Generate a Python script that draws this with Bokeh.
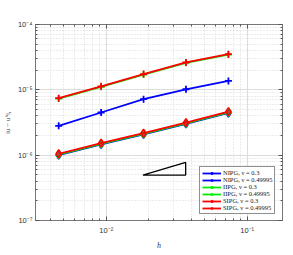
import numpy as np
from bokeh.plotting import figure
from bokeh.models import (LogAxis, FixedTicker, CustomJSTickFormatter, Legend, LegendItem,
                          Range1d, CustomLabelingPolicy)
from bokeh.embed import file_html
from bokeh.resources import INLINE

# ---------------- data ----------------
h = [0.0046, 0.0092, 0.0184, 0.0368, 0.0736]
nipg_03 = [1.00e-6, 1.46e-6, 2.08e-6, 3.01e-6, 4.42e-6]
nipg_049 = [2.81e-6, 4.50e-6, 7.20e-6, 1.02e-5, 1.37e-5]
iipg_03 = [1.02e-6, 1.49e-6, 2.12e-6, 3.07e-6, 4.52e-6]
iipg_049 = [7.35e-6, 1.11e-5, 1.71e-5, 2.59e-5, 3.47e-5]
sipg_03 = [1.05e-6, 1.53e-6, 2.18e-6, 3.15e-6, 4.65e-6]
sipg_049 = [7.46e-6, 1.13e-5, 1.74e-5, 2.63e-5, 3.52e-5]

labels = ["NIPG, \u03bd = 0.3", "NIPG, \u03bd = 0.49995",
          "IIPG, \u03bd = 0.3", "IIPG, \u03bd = 0.49995",
          "SIPG, \u03bd = 0.3", "SIPG, \u03bd = 0.49995"]

tri_x = [0.0182, 0.0366, 0.0366, 0.0182]
tri_y = [4.95e-7, 4.95e-7, 7.73e-7, 4.95e-7]

x_major = [1e-2, 1e-1]
x_minor = [4e-3, 5e-3, 6e-3, 7e-3, 8e-3, 9e-3,
           2e-2, 3e-2, 4e-2, 5e-2, 6e-2, 7e-2, 8e-2, 9e-2]
y_major = [1e-7, 1e-6, 1e-5, 1e-4]
y_minor = [m * 10.0 ** e for e in (-7, -6, -5) for m in range(2, 10)]

x_lim = (3.15e-3, 0.178)
y_lim = (1e-7, 1e-4)

# ---------------- figure ----------------
p = figure(width=293, height=255, x_axis_type="log", y_axis_type="log",
           x_range=Range1d(*x_lim), y_range=Range1d(*y_lim),
           output_backend="svg", toolbar_location=None,
           min_border_left=34, min_border_right=11, min_border_top=24, min_border_bottom=35)
p.background_fill_color = "white"
p.border_fill_color = "white"
p.outline_line_color = "#777777"

fmt = CustomJSTickFormatter(code="""
const e = Math.round(Math.log10(tick));
const sup = {'-':'\u207b','0':'\u2070','1':'\u00b9','2':'\u00b2','3':'\u00b3','4':'\u2074','5':'\u2075','6':'\u2076','7':'\u2077','8':'\u2078','9':'\u2079'};
return '10' + String(e).split('').map(c => sup[c]).join('');
""")

xt = FixedTicker(ticks=x_major, minor_ticks=x_minor)
yt = FixedTicker(ticks=y_major, minor_ticks=y_minor)

p.add_layout(LogAxis(), "right")
p.add_layout(LogAxis(), "above")

for ax in p.xaxis:
    ax.ticker = xt
for ax in p.yaxis:
    ax.ticker = yt

for ax in list(p.xaxis) + list(p.yaxis):
    ax.formatter = fmt
    ax.axis_line_color = "#777777"
    ax.major_tick_line_color = "#555555"
    ax.minor_tick_line_color = "#555555"
    ax.major_tick_in = 4
    ax.major_tick_out = 0
    ax.minor_tick_in = 2
    ax.minor_tick_out = 0
    ax.major_label_text_font = "Liberation Sans"
    ax.major_label_text_font_size = "7.5px"
    ax.major_label_text_color = "#333333"
    ax.major_label_standoff = 3

# hide labels on the extra (tick-only) axes
hide_code = """
const n = indices.size != null ? indices.size : 0;
for (let i = 0; i < n; i++) {
  if (typeof indices.unset === 'function') { indices.unset(i) } else { indices.set(i, false) }
}
return indices
"""
for ax in (p.right[0], p.above[0]):
    ax.major_label_policy = CustomLabelingPolicy(code=hide_code)
    ax.major_label_text_font_size = "1px"
    ax.major_label_standoff = 0

p.below[0].major_label_standoff = 5
p.below[0].axis_label = "h"
p.below[0].axis_label_text_font = "Liberation Serif"
p.below[0].axis_label_text_font_style = "italic"
p.below[0].axis_label_text_font_size = "8px"
p.below[0].axis_label_text_color = "#333333"
p.below[0].axis_label_standoff = 3

p.left[0].axis_label = "\u2016u \u2212 u\u02b0\u2016\u2081"
p.left[0].axis_label_text_font = "Liberation Serif"
p.left[0].axis_label_text_font_style = "normal"
p.left[0].axis_label_text_font_size = "7px"
p.left[0].axis_label_text_color = "#333333"
p.left[0].axis_label_standoff = 3

for g in (p.xgrid[0], p.ygrid[0]):
    g.grid_line_color = "#dcdcdc"
    g.grid_line_width = 1
    g.minor_grid_line_color = "#d8d8d8"
    g.minor_grid_line_dash = "1 2"
    g.minor_grid_line_width = 1

# ---------------- series ----------------
series = [
    (nipg_03, "#0000ff", "diamond"),
    (nipg_049, "#0000ff", "cross"),
    (iipg_03, "#00ee00", "diamond"),
    (iipg_049, "#00ee00", "cross"),
    (sipg_03, "#ff0000", "diamond"),
    (sipg_049, "#ff0000", "cross"),
]

items = []
for (vals, col, mk), lab in zip(series, labels):
    lr = p.line(h, vals, line_color=col, line_width=1.8)
    if mk == "diamond":
        sr = p.scatter(h, vals, marker="diamond", size=8, line_color=col, line_width=1.5,
                       fill_color=col, fill_alpha=0.35)
    else:
        sr = p.scatter(h, vals, marker="cross", size=7, line_color=col, line_width=1.8)
    items.append(LegendItem(label=lab, renderers=[lr, sr]))

# slope triangle
p.line(tri_x, tri_y, line_color="black", line_width=1.3)

legend = Legend(items=items, location=(164, 6))
legend.label_text_font = "Liberation Serif"
legend.label_text_font_size = "6.5px"
legend.label_text_color = "#222222"
legend.label_height = 6
legend.glyph_height = 6
legend.glyph_width = 19
legend.label_standoff = 2
legend.spacing = 0
legend.padding = 2
legend.margin = 0
legend.border_line_color = "#222222"
legend.border_line_width = 1.5
legend.background_fill_color = "white"
p.add_layout(legend)

open("out.html", "w").write(file_html(p, INLINE))
